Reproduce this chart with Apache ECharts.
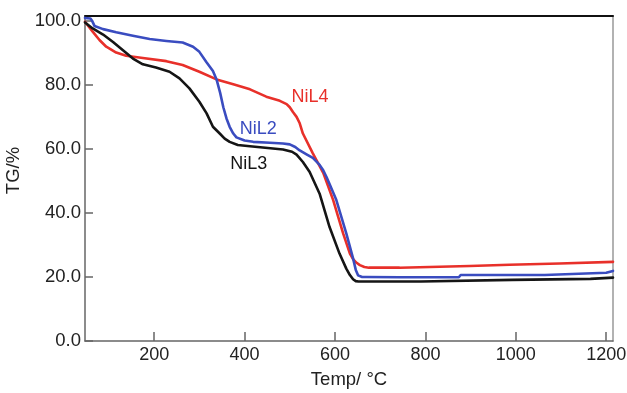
<!DOCTYPE html>
<html>
<head>
<meta charset="utf-8">
<script src="https://cdn.jsdelivr.net/npm/echarts@6/dist/echarts.min.js"></script>
<style>
  html, body { margin: 0; padding: 0; background: #fff; }
  #chart { width: 627px; height: 393px; }
</style>
</head>
<body>
<div id="chart"></div>
<script>
// temperature (°C) and TG (%)
const nil2Temp = [47, 59, 63, 68, 87, 116, 153, 190, 227, 263, 286, 300, 315, 330, 338, 346, 353, 360, 367, 375, 382, 400, 419, 456, 485, 500, 512, 522, 537, 551, 566, 574, 581, 588, 603, 625, 640, 646, 651, 660, 669, 743, 874, 878, 1064, 1068, 1200, 1215]
const nil2TG = [100.9, 100.7, 99.9, 98.4, 97.4, 96.4, 95.3, 94.3, 93.7, 93.2, 91.9, 90.3, 87.2, 84.3, 81.7, 77.5, 73.0, 69.5, 66.9, 64.8, 63.6, 62.6, 62.2, 61.9, 61.7, 61.4, 60.6, 59.5, 58.3, 57.2, 55.0, 53.3, 51.3, 49.0, 44.0, 33.6, 25.8, 22.2, 20.5, 20.0, 20.0, 19.9, 19.9, 20.6, 20.6, 21.1, 21.3, 21.9]

const nil3Temp = [47, 64, 87, 109, 131, 153, 175, 204, 234, 256, 278, 300, 316, 330, 345, 356, 367, 385, 412, 485, 505, 515, 529, 544, 566, 588, 610, 625, 633, 640, 646, 652, 790, 792, 992, 994, 1165, 1167, 1215]
const nil3TG = [99.5, 97.6, 95.7, 93.4, 90.8, 88.2, 86.4, 85.4, 84.1, 82.0, 78.9, 74.7, 71.1, 66.9, 64.8, 63.2, 62.2, 61.2, 60.8, 59.8, 59.1, 58.2, 55.9, 52.8, 46.0, 35.6, 27.3, 22.6, 20.6, 19.3, 18.7, 18.6, 18.6, 19.1, 19.1, 19.4, 19.4, 19.8, 19.8]

const nil4Temp = [47, 64, 79, 94, 116, 138, 175, 227, 263, 300, 338, 375, 412, 448, 478, 493, 500, 507, 515, 522, 529, 551, 574, 596, 618, 633, 640, 647, 655, 665, 675, 743, 745, 898, 900, 986, 988, 1097, 1099, 1215]
const nil4TG = [99.7, 96.6, 94.0, 91.9, 90.1, 89.1, 88.4, 87.4, 86.2, 84.1, 81.7, 80.2, 78.6, 76.3, 75.0, 74.0, 73.0, 71.5, 70.0, 68.0, 64.8, 58.6, 52.5, 44.0, 33.6, 27.3, 25.6, 24.5, 23.7, 23.1, 22.9, 22.9, 23.4, 23.4, 23.8, 23.8, 24.2, 24.2, 24.6, 24.7]

const xTicks = [200, 400, 600, 800, 1000, 1200]
const yTicks = [0, 20, 40, 60, 80, 100]

// where the curve names sit, in data units
const seriesLabels = [
  { name: 'NiL4', color: '#e8302a', at: [545, 76.2] },
  { name: 'NiL2', color: '#3a4cc0', at: [430, 66.3] },
  { name: 'NiL3', color: '#151515', at: [409, 55.3] },
]

const FONT = '"Liberation Sans", Arial, sans-serif'
const zip = (xs, ys) => xs.map((x, i) => [x, ys[i]])

function line(name, color, temps, tgs, z) {
  const lab = seriesLabels.find(l => l.name === name)
  return {
    name,
    type: 'line',
    z,
    showSymbol: false,
    lineStyle: { color, width: 2.6, join: 'round', cap: 'round' },
    itemStyle: { color },
    silent: true,
    data: zip(temps, tgs),
    markPoint: {
      silent: true,
      symbol: 'circle',
      symbolSize: 0,
      data: [{ coord: lab.at }],
      label: {
        show: true,
        position: 'inside',
        formatter: name,
        color: lab.color,
        fontSize: 18,
        fontFamily: FONT,
      },
    },
  }
}

const chart = echarts.init(document.getElementById('chart'))
chart.setOption({
  backgroundColor: '#fff',
  animation: false,
  grid: { left: 85, right: 14, top: 16, bottom: 52, outerBoundsMode: 'none', containLabel: false },
  xAxis: [
    {
      type: 'value',
      min: 47,
      max: 1215,
      name: 'Temp/ °C',
      nameLocation: 'middle',
      nameGap: 29,
      nameTextStyle: { color: '#222', fontSize: 18.5, fontFamily: FONT },
      axisLine: { onZero: false, lineStyle: { color: '#666', width: 1.5 } },
      axisTick: { inside: true, length: 9, customValues: xTicks, lineStyle: { color: '#666', width: 1.5 } },
      axisLabel: {
        customValues: xTicks,
        color: '#222',
        fontSize: 18,
        fontFamily: FONT,
        margin: 5,
        formatter: v => String(v),
      },
      splitLine: { show: false },
    },
    {
      type: 'value',
      position: 'top',
      min: 47,
      max: 1215,
      axisLine: { show: true, onZero: false, lineStyle: { color: '#111', width: 2 } },
      axisTick: { show: false },
      axisLabel: { show: false },
      splitLine: { show: false },
    },
  ],
  yAxis: [
    {
      type: 'value',
      min: 0,
      max: 101.5,
      name: 'TG/%',
      nameLocation: 'middle',
      nameGap: 51,
      nameTextStyle: { color: '#222', fontSize: 18.5, fontFamily: FONT, padding: [0, 0, 0, 16] },
      axisLine: { show: true, onZero: false, lineStyle: { color: '#666', width: 1.5 } },
      axisTick: { show: true, inside: true, length: 8, customValues: yTicks, lineStyle: { color: '#666', width: 1.5 } },
      axisLabel: {
        customValues: yTicks,
        color: '#222',
        fontSize: 18.5,
        fontFamily: FONT,
        margin: 4,
        formatter: v => Number(v).toFixed(1),
      },
      splitLine: { show: false },
    },
    {
      type: 'value',
      position: 'right',
      min: 0,
      max: 101.5,
      axisLine: { show: true, onZero: false, lineStyle: { color: '#999', width: 1.5 } },
      axisTick: { show: false },
      axisLabel: { show: false },
      splitLine: { show: false },
    },
  ],
  series: [
    line('NiL4', '#e8302a', nil4Temp, nil4TG, 2),
    line('NiL2', '#3a4cc0', nil2Temp, nil2TG, 3),
    line('NiL3', '#151515', nil3Temp, nil3TG, 4),
  ],
})
</script>
</body>
</html>
